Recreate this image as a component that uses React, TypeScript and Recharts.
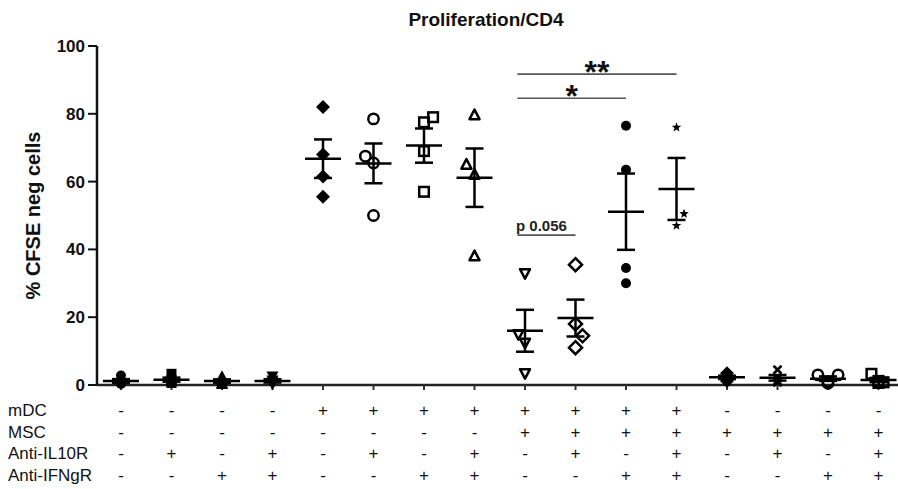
import React from 'react';
import { ComposedChart, Scatter, XAxis, YAxis, ErrorBar, ReferenceLine } from 'recharts';

// ---- data ----
const categories = [1, 2, 3, 4, 5, 6, 7, 8, 9, 10, 11, 12, 13, 14, 15, 16];
const rowLabels = ['mDC', 'MSC', 'Anti-IL10R', 'Anti-IFNgR'];
const mDC = ['-', '-', '-', '-', '+', '+', '+', '+', '+', '+', '+', '+', '-', '-', '-', '-'];
const MSC = ['-', '-', '-', '-', '-', '-', '-', '-', '+', '+', '+', '+', '+', '+', '+', '+'];
const antiIL10R = ['-', '+', '-', '+', '-', '+', '-', '+', '-', '+', '-', '+', '-', '+', '-', '+'];
const antiIFNgR = ['-', '-', '+', '+', '-', '-', '+', '+', '-', '-', '+', '+', '-', '-', '+', '+'];
const tableRows = [mDC, MSC, antiIL10R, antiIFNgR];

const g01 = [2.8, 1.0, 0.3, 0.6];
const g02 = [3.3, 1.5, 0.6, 0.9];
const g03 = [2.6, 1.2, 0.5, 0.3];
const g04 = [2.5, 1.3, 0.8, 0.2];
const g05 = [82, 55.5, 68, 61.5];
const g06 = [78.5, 50, 67.5, 65.5];
const g07 = [79, 77.5, 69, 57];
const g08 = [79.6, 65, 62, 38];
const g09 = [33, 15, 12.5, 3.5];
const g10 = [35.5, 18, 14.5, 11];
const g11 = [76.5, 63.5, 34.5, 30];
const g12 = [76, 50.5, 47];
const g13 = [3.5, 2.5, 1.8, 1.2];
const g14 = [4.5, 2.0, 1.2, 0.8];
const g15 = [3.0, 3.0, 1.0, 0.5];
const g16 = [3.3, 1.2, 0.8, 0.6];

// horizontal spread of overlapping dots (in category units)
const j06 = [0, 0, -0.16, 0];
const j07 = [0.18, 0, 0, 0];
const j08 = [0, -0.16, 0, 0];
const j09 = [0, -0.13, 0, 0];
const j10 = [0, 0, 0.14, 0];
const j12 = [0, 0.15, 0];
const j15 = [-0.2, 0.2, 0, 0];
const j16 = [-0.14, 0, 0.1, 0];

const groups = [g01, g02, g03, g04, g05, g06, g07, g08, g09, g10, g11, g12, g13, g14, g15, g16];
const jitters = [[], [], [], [], [], j06, j07, j08, j09, j10, [], j12, [], [], j15, j16];
const markers = [
  'filledCircle', 'filledSquare', 'filledTriUp', 'filledTriDown',
  'filledDiamond', 'openCircle', 'openSquare', 'openTriUp',
  'openTriDown', 'openDiamond', 'filledCircle', 'star',
  'filledDiamond', 'cross', 'openCircle', 'openSquare',
];

const yTicks = [0, 20, 40, 60, 80, 100];

// significance annotations
const sigDouble = { from: 8.85, to: 12, y: 91.7, label: '**' };
const sigSingle = { from: 8.85, to: 11, y: 84.6, label: '*' };
const sigP = { from: 8.85, to: 10, y: 44.2, label: 'p 0.056' };

// ---- helpers ----
const mean = (a: number[]) => a.reduce((s, v) => s + v, 0) / a.length;
const sem = (a: number[]) => {
  const m = mean(a);
  const sd = Math.sqrt(a.reduce((s, v) => s + (v - m) * (v - m), 0) / (a.length - 1));
  return sd / Math.sqrt(a.length);
};

const meanData = groups.map((g, i) => ({ x: categories[i], y: mean(g), err: sem(g) }));

const FONT = '"Liberation Sans", Arial, Helvetica, sans-serif';
const SW = 2.5;

function Marker(kind: string) {
  return (props: any) => {
    const { cx, cy } = props;
    if (cx == null || cy == null) return <g />;
    switch (kind) {
      case 'filledCircle':
        return <circle cx={cx} cy={cy} r={5} fill="#000" />;
      case 'filledSquare':
        return <rect x={cx - 5} y={cy - 5} width={10} height={10} fill="#000" />;
      case 'filledTriUp':
        return <polygon points={`${cx},${cy - 6} ${cx - 6},${cy + 5} ${cx + 6},${cy + 5}`} fill="#000" />;
      case 'filledTriDown':
        return <polygon points={`${cx},${cy + 6} ${cx - 6},${cy - 5} ${cx + 6},${cy - 5}`} fill="#000" />;
      case 'filledDiamond':
        return <polygon points={`${cx},${cy - 7} ${cx + 7},${cy} ${cx},${cy + 7} ${cx - 7},${cy}`} fill="#000" />;
      case 'openCircle':
        return <circle cx={cx} cy={cy} r={5.2} fill="none" stroke="#000" strokeWidth={SW} />;
      case 'openSquare':
        return <rect x={cx - 4.8} y={cy - 4.8} width={9.6} height={9.6} fill="none" stroke="#000" strokeWidth={SW} />;
      case 'openTriUp':
        return <polygon points={`${cx},${cy - 5.5} ${cx - 5},${cy + 4} ${cx + 5},${cy + 4}`} fill="none" stroke="#000" strokeWidth={SW} strokeLinejoin="round" />;
      case 'openTriDown':
        return <polygon points={`${cx},${cy + 5.5} ${cx - 5},${cy - 4} ${cx + 5},${cy - 4}`} fill="none" stroke="#000" strokeWidth={SW} strokeLinejoin="round" />;
      case 'openDiamond':
        return <polygon points={`${cx},${cy - 6.5} ${cx + 6.5},${cy} ${cx},${cy + 6.5} ${cx - 6.5},${cy}`} fill="none" stroke="#000" strokeWidth={SW} />;
      case 'star': {
        const pts: string[] = [];
        for (let k = 0; k < 10; k++) {
          const r = k % 2 === 0 ? 5 : 2.1;
          const a = -Math.PI / 2 + (k * Math.PI) / 5;
          pts.push(`${cx + r * Math.cos(a)},${cy + r * Math.sin(a)}`);
        }
        return <polygon points={pts.join(' ')} fill="#000" />;
      }
      case 'cross':
        return (
          <g stroke="#000" strokeWidth={SW}>
            <line x1={cx - 4} y1={cy - 4} x2={cx + 4} y2={cy + 4} />
            <line x1={cx - 4} y1={cy + 4} x2={cx + 4} y2={cy - 4} />
          </g>
        );
      default:
        return <circle cx={cx} cy={cy} r={4} fill="#000" />;
    }
  };
}

const MeanLine = (props: any) => {
  const { cx, cy } = props;
  if (cx == null || cy == null) return <g />;
  return <line x1={cx - 18} x2={cx + 18} y1={cy} y2={cy} stroke="#000" strokeWidth={SW} />;
};

const TableTick = (props: any) => {
  const { x, y, payload } = props;
  const i = categories.indexOf(payload.value);
  const offsets = [26, 47.5, 69, 90.5];
  return (
    <g>
      {tableRows.map((row, r) => (
        <text
          key={r}
          x={x}
          y={y + offsets[r]}
          textAnchor="middle"
          fontSize={17}
          fontFamily={FONT}
          fill="#111"
        >
          {row[i]}
        </text>
      ))}
      {i === 0 &&
        rowLabels.map((lab, r) => (
          <text key={'l' + r} x={8} y={y + offsets[r]} textAnchor="start" fontSize={17} fontFamily={FONT} fill="#111">
            {lab}
          </text>
        ))}
    </g>
  );
};

export default function App() {
  return (
    <div style={{ position: 'absolute', left: 0, top: 0, width: 898, height: 489, background: '#fff' }}>
      <div
        style={{
          position: 'absolute',
          left: 0,
          top: 10,
          width: 972,
          textAlign: 'center',
          fontFamily: FONT,
          fontWeight: 'bold',
          fontSize: 19,
          lineHeight: '19px',
          color: '#111',
        }}
      >
        Proliferation/CD4
      </div>
      <ComposedChart width={898} height={489} margin={{ top: 46, right: 0, bottom: 0, left: 0 }}>
        <XAxis
          type="number"
          dataKey="x"
          domain={[0.525, 16.386]}
          allowDataOverflow
          ticks={categories}
          interval={0}
          tickSize={5}
          tickMargin={0}
          height={104}
          axisLine={{ stroke: '#222', strokeWidth: 2.5 }}
          tickLine={{ stroke: '#333', strokeWidth: 2 }}
          tick={<TableTick />}
        />
        <YAxis
          type="number"
          dataKey="y"
          domain={[0, 100]}
          ticks={yTicks}
          width={97}
          tickSize={9}
          tickMargin={3}
          axisLine={{ stroke: '#111', strokeWidth: 2.5 }}
          tickLine={{ stroke: '#111', strokeWidth: 2 }}
          tick={{ fontSize: 17, fontWeight: 'bold', fill: '#111', fontFamily: FONT }}
          label={{
            value: '% CFSE neg cells',
            angle: -90,
            position: 'insideLeft',
            offset: 33,
            fontSize: 20,
            fontWeight: 'bold',
            fill: '#111',
            fontFamily: FONT,
            style: { textAnchor: 'middle' },
          }}
        />
        {groups.map((g, k) => (
          <Scatter
            key={k}
            data={g.map((v, i) => ({ x: categories[k] + (jitters[k][i] || 0), y: v }))}
            shape={Marker(markers[k])}
            isAnimationActive={false}
          />
        ))}
        <Scatter data={meanData} shape={<MeanLine />} isAnimationActive={false}>
          <ErrorBar dataKey="err" direction="y" width={9} stroke="#000" strokeWidth={SW} />
        </Scatter>
        {[sigDouble, sigSingle].map((s, i) => (
          <ReferenceLine
            key={i}
            segment={[{ x: s.from, y: s.y }, { x: s.to, y: s.y }]}
            stroke="#555"
            strokeWidth={1.6}
            label={{
              value: s.label,
              position: 'top',
              offset: -9,
              fontSize: 32,
              fontWeight: 'bold',
              fill: '#111',
              fontFamily: FONT,
            }}
          />
        ))}
        <ReferenceLine
          segment={[{ x: sigP.from, y: sigP.y }, { x: sigP.to, y: sigP.y }]}
          stroke="#555"
          strokeWidth={1.6}
          label={{
            value: sigP.label,
            position: 'top',
            offset: 4,
            dx: -5,
            fontSize: 15,
            fontWeight: 'bold',
            fill: '#222',
            fontFamily: FONT,
          }}
        />
      </ComposedChart>
    </div>
  );
}
